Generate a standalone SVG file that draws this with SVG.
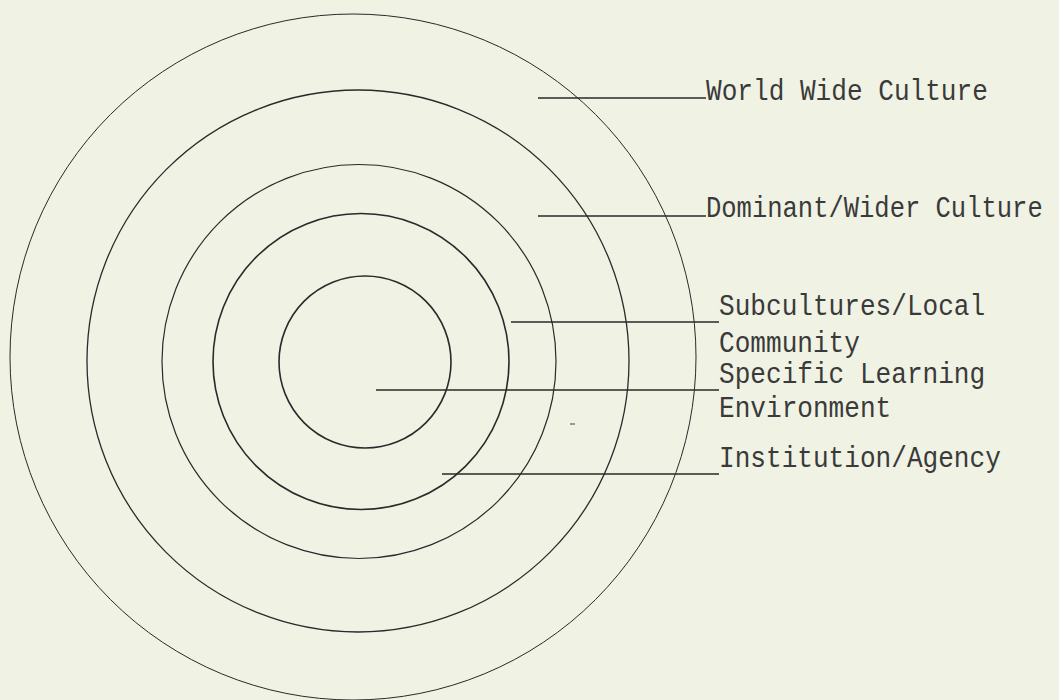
<svg xmlns="http://www.w3.org/2000/svg" width="1059" height="700" viewBox="0 0 1059 700">
<style>
.ring{fill:none;stroke:#2a2a2a}
.lead{stroke:#2a2a2a;stroke-width:1.6;fill:none}
.lbl{font-family:"Liberation Mono","DejaVu Sans Mono",monospace;font-size:29px;fill:#3a3a3a}
</style>
<rect width="1059" height="700" fill="#f0f2e4"/>
<g id="ring-world"><circle class="ring" cx="353" cy="357" r="343" stroke-width="1" stroke="#555"/></g>
<g id="ring-dominant"><circle class="ring" cx="358" cy="361" r="271" stroke-width="1.3"/></g>
<g id="ring-institution"><circle class="ring" cx="359" cy="361.5" r="197" stroke-width="1.2"/></g>
<g id="ring-subculture"><circle class="ring" cx="361" cy="361.5" r="148" stroke-width="1.6"/></g>
<g id="ring-specific"><circle class="ring" cx="365" cy="362" r="86" stroke-width="1.6"/></g>
<g id="connectors">
<line class="lead" x1="538" y1="98" x2="706" y2="98"/>
<line class="lead" x1="538" y1="216" x2="706" y2="216"/>
<line class="lead" x1="511" y1="322" x2="719" y2="322"/>
<line class="lead" x1="376" y1="390" x2="719" y2="390"/>
<line class="lead" x1="442" y1="474" x2="719" y2="474"/>
</g>
<g id="labels">
<text class="lbl" transform="translate(706,100) scale(0.9,1)">World Wide Culture</text>
<text class="lbl" transform="translate(706,217) scale(0.88,1)">Dominant/Wider Culture</text>
<text class="lbl" transform="translate(719,315) scale(0.9,1)">Subcultures/Local</text>
<text class="lbl" transform="translate(719,352) scale(0.9,1)">Community</text>
<text class="lbl" transform="translate(719,383) scale(0.9,1)">Specific Learning</text>
<text class="lbl" transform="translate(719,417) scale(0.9,1)">Environment</text>
<text class="lbl" transform="translate(719,467) scale(0.9,1)">Institution/Agency</text>
</g>
<line x1="570" y1="424" x2="575" y2="424" stroke="#444" stroke-width="1"/>
</svg>
